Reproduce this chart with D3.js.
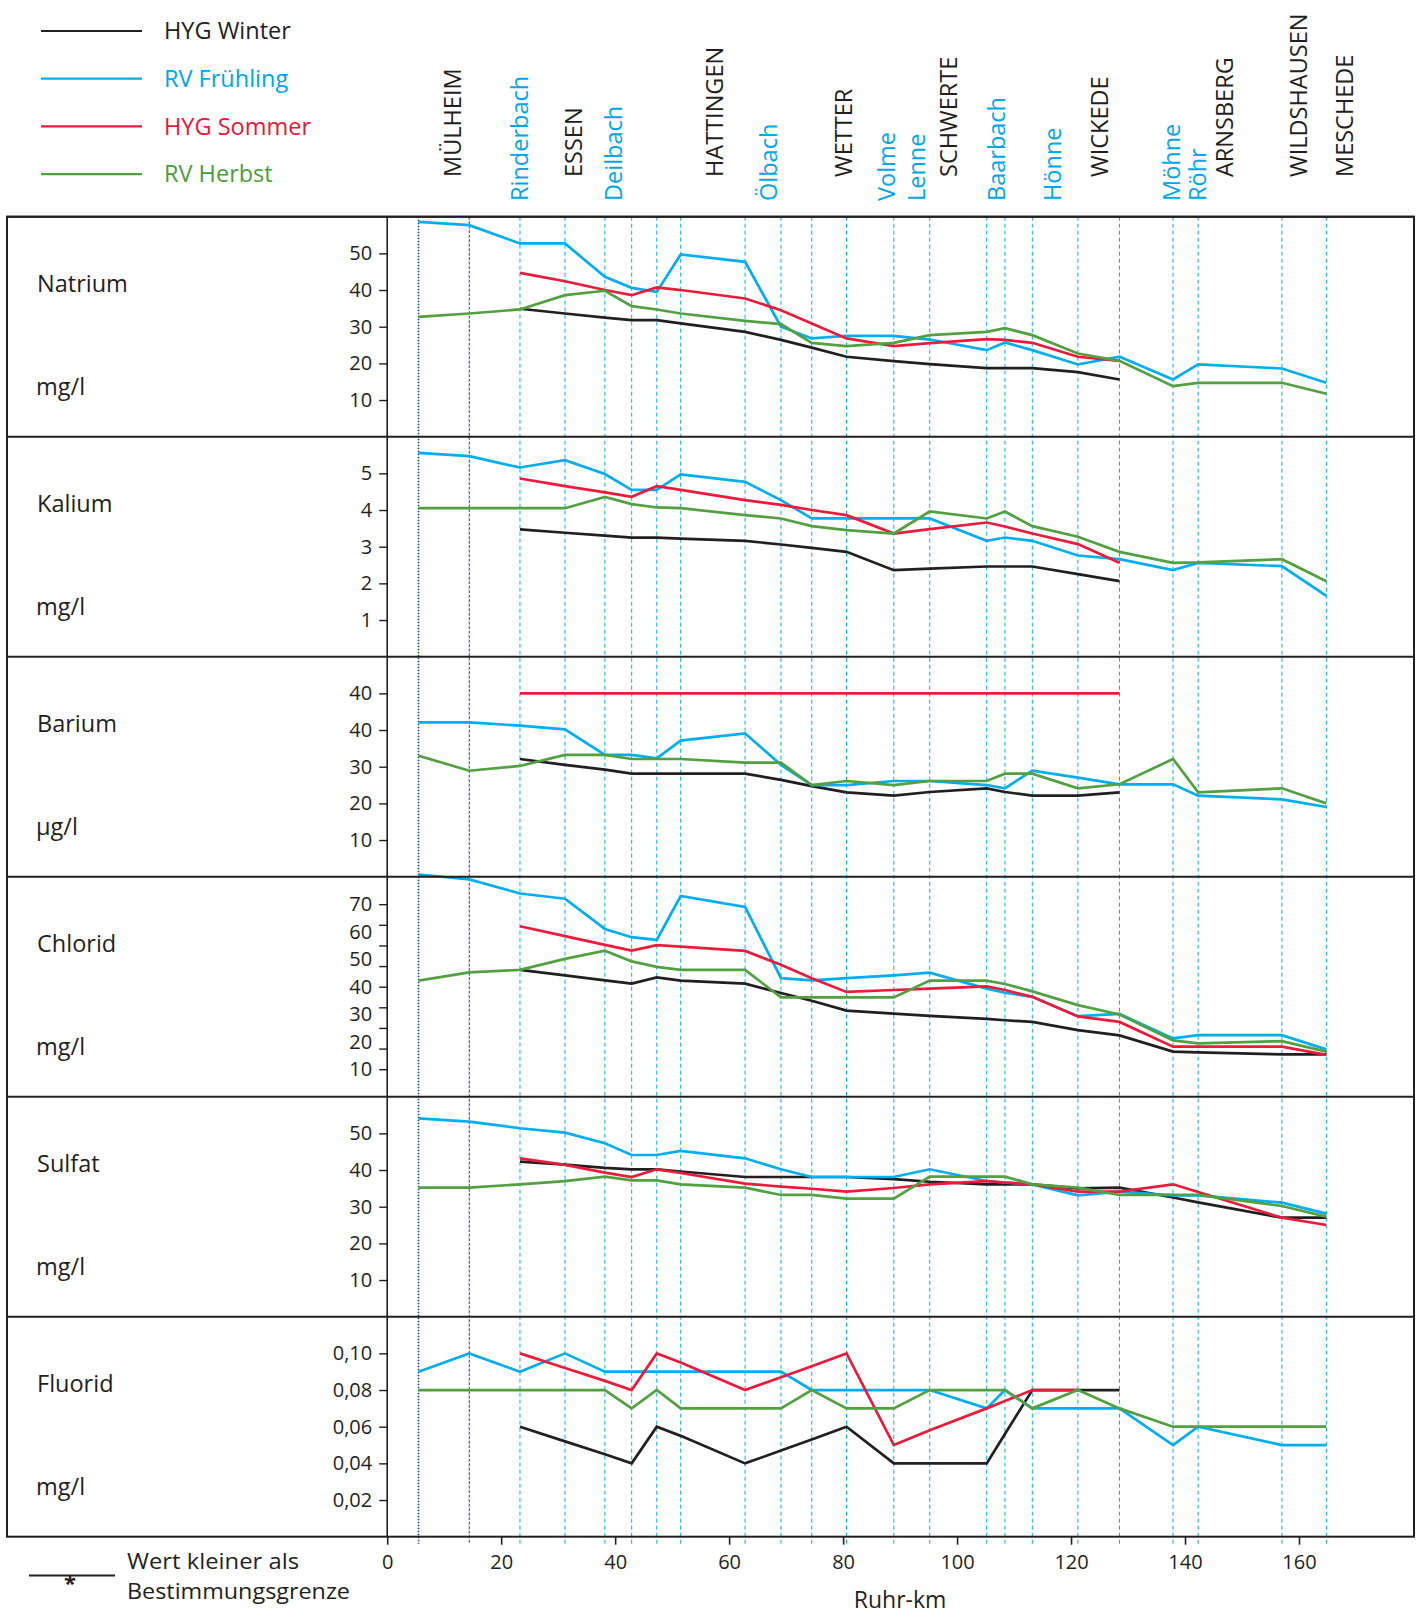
<!DOCTYPE html>
<html>
<head>
<meta charset="utf-8">
<script src="https://cdn.jsdelivr.net/npm/d3@7"></script>
<style>
  html, body { margin: 0; padding: 0; background: #fff; }
  svg { display: block; }
  text { font-family: "Open Sans", "Noto Sans", sans-serif; }
</style>
</head>
<body>
<svg id="chart" width="1421" height="1615"></svg>
<script>
const n = null;

// ---------- data ----------
const seriesNames = ["HYG Winter", "RV Frühling", "HYG Sommer", "RV Herbst"];
const panelNames = ["Natrium", "Kalium", "Barium", "Chlorid", "Sulfat", "Fluorid"];
const panelUnits = ["mg/l", "mg/l", "µg/l", "mg/l", "mg/l", "mg/l"];
const panelMax = [60, 6, 60, 80, 60, 0.12];

const tickValuesList = [
  [10, 20, 30, 40, 50],
  [1, 2, 3, 4, 5],
  [10, 20, 30, 40, 50],
  [10, 20, 30, 40, 50, 60, 70],
  [10, 20, 30, 40, 50],
  [0.02, 0.04, 0.06, 0.08, 0.10]
];
const tickLabelsList = [
  ["10", "20", "30", "40", "50"],
  ["1", "2", "3", "4", "5"],
  ["10", "20", "30", "40", "40"],
  ["10", "20", "30", "40", "50", "60", "70"],
  ["10", "20", "30", "40", "50"],
  ["0,02", "0,04", "0,06", "0,08", "0,10"]
];
const chloridTickMarks = [10, 17.5, 25, 32.5, 40, 47.5, 55, 62.5, 70];

const xTickValues = [0, 20, 40, 60, 80, 100, 120, 140, 160];
const xTickLabels = ["0", "20", "40", "60", "80", "100", "120", "140", "160"];

// measuring stations (Ruhr-km)
const stations = [5.5, 14.4, 23.3, 31.2, 38.2, 42.9, 47.3, 51.5, 62.8, 69.1, 74.5, 80.6, 88.9, 95.2,
                  105.2, 108.4, 113.2, 121.2, 128.5, 137.9, 142.3, 157.0, 164.8];

// place labels on top (Ruhr-km of label, kind: town / tributary)
const placeNames = ["MÜLHEIM", "Rinderbach", "ESSEN", "Deilbach", "HATTINGEN", "Ölbach", "WETTER", "Volme", "Lenne",
                    "SCHWERTE", "Baarbach", "Hönne", "WICKEDE", "Möhne", "Röhr", "ARNSBERG", "WILDSHAUSEN", "MESCHEDE"];
const placeKm = [11.5, 23.3, 32.7, 39.7, 57.5, 66.9, 80.1, 87.6, 92.8, 98.5, 107.0, 116.7, 125.0, 137.7, 142.2, 146.9, 160.0, 168.0];
const placeIsTributary = [false, true, false, true, false, true, false, true, true, false, true, true, false, true, true, false, false, false];

const natriumWinter    = [n, n, 34.9, 33.6, 32.5, 31.8, 31.8, 30.9, 28.6, 26.4, 24.3, 21.8, 20.6, 19.8, 18.7, 18.7, 18.7, 17.6, 15.6, n, n, n, n];
const natriumFruehling = [58.6, 57.7, 52.7, 52.7, 43.6, 40.6, 39.5, 49.7, 47.7, 30.0, 26.8, 27.5, 27.5, 26.5, 23.6, 25.7, 23.6, 19.7, 21.8, 15.6, 19.7, 18.6, 14.7];
const natriumSommer    = [n, n, 44.7, 42.4, 40.0, 38.6, 40.7, 40.0, 37.7, 34.5, 30.9, 26.8, 24.7, 25.5, 26.6, 26.4, 25.6, 21.8, 20.7, n, n, n, n];
const natriumHerbst    = [32.7, 33.6, 34.7, 38.6, 39.8, 35.6, 34.7, 33.6, 31.6, 30.7, 25.6, 24.7, 25.6, 27.7, 28.6, 29.6, 27.7, 22.7, 20.7, 13.8, 14.7, 14.7, 11.7];

const kaliumWinter    = [n, n, 3.47, 3.38, 3.30, 3.25, 3.25, 3.22, 3.16, 3.06, 2.97, 2.86, 2.36, 2.40, 2.46, 2.46, 2.46, 2.25, 2.06, n, n, n, n];
const kaliumFruehling = [5.56, 5.47, 5.16, 5.36, 4.98, 4.55, 4.55, 4.97, 4.77, 4.27, 3.77, 3.77, 3.77, 3.77, 3.16, 3.25, 3.16, 2.76, 2.66, 2.36, 2.56, 2.47, 1.66];
const kaliumSommer    = [n, n, 4.86, 4.65, 4.48, 4.36, 4.65, 4.55, 4.27, 4.14, 4.00, 3.86, 3.36, 3.48, 3.66, 3.55, 3.36, 3.07, 2.56, n, n, n, n];
const kaliumHerbst    = [4.05, 4.05, 4.05, 4.05, 4.36, 4.16, 4.07, 4.05, 3.86, 3.77, 3.56, 3.45, 3.36, 3.96, 3.77, 3.96, 3.56, 3.27, 2.86, 2.56, 2.57, 2.66, 2.06];

const bariumWinter    = [n, n, 32.1, 30.5, 29.2, 28.1, 28.1, 28.1, 28.1, 26.4, 24.7, 23.0, 22.1, 23.1, 24.1, 23.1, 22.1, 22.1, 23.0, n, n, n, n];
const bariumFruehling = [42.1, 42.1, 41.2, 40.2, 33.2, 33.2, 32.3, 37.1, 39.1, 30.5, 25.0, 25.0, 26.1, 26.1, 25.0, 24.1, 28.9, 27.0, 25.2, 25.2, 22.1, 21.1, 19.0];
const bariumSommer    = [n, n, 50, 50, 50, 50, 50, 50, 50, 50, 50, 50, 50, 50, 50, 50, 50, 50, 50, n, n, n, n];
const bariumHerbst    = [33.0, 28.9, 30.2, 33.2, 33.2, 32.1, 32.1, 32.1, 31.1, 31.1, 25.0, 26.1, 25.0, 26.1, 26.1, 28.1, 28.1, 24.1, 25.2, 32.1, 23.0, 24.1, 20.0];

const chloridWinter    = [n, n, 46.1, 44.1, 42.3, 41.1, 43.4, 42.2, 41.1, 37.7, 34.9, 31.3, 30.2, 29.4, 28.3, 27.8, 27.2, 24.2, 22.3, 16.4, 16.1, 15.4, 15.4];
const chloridFruehling = [80.8, 79.0, 73.9, 72.0, 61.0, 58.0, 57.0, 73.0, 69.0, 43.1, 42.3, 43.1, 44.1, 45.1, 39.3, 37.8, 36.3, 29.3, 30.1, 21.2, 22.4, 22.4, 17.2];
const chloridSommer    = [n, n, 62.0, 58.4, 55.2, 53.1, 55.1, 54.6, 53.0, 48.0, 43.1, 38.1, 38.8, 39.3, 40.1, 38.8, 36.3, 29.2, 27.2, 18.2, 18.2, 18.2, 15.2];
const chloridHerbst    = [42.2, 45.2, 46.1, 50.1, 53.1, 49.2, 47.2, 46.1, 46.1, 36.1, 36.1, 36.1, 36.1, 42.2, 42.2, 41.0, 38.3, 33.3, 29.9, 20.5, 19.4, 20.2, 16.4];

const sulfatWinter    = [n, n, 42.3, 41.5, 40.6, 40.2, 40.2, 39.6, 38.1, 38.1, 38.1, 38.1, 37.5, 36.8, 36.1, 36.1, 36.1, 35.0, 35.2, 32.5, 31.2, 27.0, 27.0];
const sulfatFruehling = [54.1, 53.2, 51.4, 50.2, 47.3, 44.1, 44.1, 45.2, 43.2, 40.2, 38.1, 38.1, 38.1, 40.2, 37.0, 36.6, 36.1, 33.1, 34.1, 33.1, 33.1, 31.1, 28.1];
const sulfatSommer    = [n, n, 43.2, 41.4, 39.3, 38.1, 40.2, 39.2, 36.3, 35.5, 34.9, 34.1, 35.1, 36.1, 37.0, 36.6, 36.1, 34.1, 34.1, 36.1, 34.0, 27.0, 25.0];
const sulfatHerbst    = [35.2, 35.2, 36.1, 37.0, 38.2, 37.2, 37.2, 36.1, 35.2, 33.2, 33.2, 32.2, 32.2, 38.2, 38.2, 38.2, 36.1, 35.2, 33.2, 33.2, 33.2, 30.2, 27.3];

const fluoridWinter    = [n, n, 0.060, 0.052, 0.045, 0.040, 0.060, 0.055, 0.040, 0.047, 0.053, 0.060, 0.040, 0.040, 0.040, 0.056, 0.080, 0.080, 0.080, n, n, n, n];
const fluoridFruehling = [0.09, 0.10, 0.09, 0.10, 0.09, 0.09, 0.09, 0.09, 0.09, 0.09, 0.08, 0.08, 0.08, 0.08, 0.07, 0.08, 0.07, 0.07, 0.07, 0.05, 0.06, 0.05, 0.05];
const fluoridSommer    = [n, n, 0.100, 0.092, 0.085, 0.080, 0.100, 0.095, 0.080, 0.087, 0.093, 0.100, 0.050, 0.058, 0.070, 0.074, 0.080, 0.080, n, n, n, n, n];
const fluoridHerbst    = [0.08, 0.08, 0.08, 0.08, 0.08, 0.07, 0.08, 0.07, 0.07, 0.07, 0.08, 0.07, 0.07, 0.08, 0.08, 0.08, 0.07, 0.08, 0.07, 0.06, 0.06, 0.06, 0.06];

const panelSeries = [
  [natriumWinter, natriumFruehling, natriumSommer, natriumHerbst],
  [kaliumWinter, kaliumFruehling, kaliumSommer, kaliumHerbst],
  [bariumWinter, bariumFruehling, bariumSommer, bariumHerbst],
  [chloridWinter, chloridFruehling, chloridSommer, chloridHerbst],
  [sulfatWinter, sulfatFruehling, sulfatSommer, sulfatHerbst],
  [fluoridWinter, fluoridFruehling, fluoridSommer, fluoridHerbst]
];

const noteLines = ["Wert kleiner als", "Bestimmungsgrenze"];

// ---------- styles / layout ----------
const INK = "#231f20";
const BLUE = "#00aeef";
const seriesColors = [INK, BLUE, "#ec1b3b", "#52a040"];
const textColors = [INK, "#00a6e8", "#e8173c", "#4d9c3a"];
const BIG = 23.5, TICK = 20;

const frameLeft = 7, frameRight = 1414;
const panelTop0 = 216.7, panelH = 220;
const axisX = 387.2;
const bottomY = panelTop0 + panelH * panelNames.length;

const svg = d3.select("#chart");
const x = d3.scaleLinear().domain([0, 160]).range([axisX, 1299]);

// ---------- legend ----------
const legend = svg.append("g");
seriesNames.forEach((name, i) => {
  const y = 31 + i * 47.7;
  legend.append("line").attr("x1", 41).attr("x2", 142).attr("y1", y).attr("y2", y)
    .attr("stroke", seriesColors[i]).attr("stroke-width", 2.2);
  legend.append("text").attr("x", 164).attr("y", y).attr("dy", "0.35em")
    .attr("font-size", BIG).attr("fill", textColors[i]).text(name);
});

// ---------- place labels ----------
placeNames.forEach((name, i) => {
  const px = x(placeKm[i]);
  const py = placeIsTributary[i] ? 201 : 177;
  svg.append("text")
    .attr("transform", `translate(${px},${py}) rotate(-90)`)
    .attr("dy", "0.36em")
    .attr("font-size", BIG)
    .attr("fill", placeIsTributary[i] ? "#00a6e8" : INK)
    .text(name);
});

// ---------- station dashed lines ----------
const stationG = svg.append("g");
stations.forEach((km, i) => {
  const sx = x(km);
  const ln = stationG.append("line")
    .attr("x1", sx).attr("x2", sx).attr("y1", panelTop0).attr("y2", bottomY + 7);
  if (i === 0) {
    ln.attr("stroke", "#1b3f9e").attr("stroke-width", 1.6).attr("stroke-dasharray", "1.5,1.5");
  } else if (i === 1) {
    ln.attr("stroke", "#1b3f9e").attr("stroke-width", 1).attr("stroke-dasharray", "3,1.5");
  } else {
    ln.attr("stroke", BLUE).attr("stroke-width", 1).attr("stroke-dasharray", "4,3");
  }
});

// ---------- panels ----------
panelNames.forEach((pname, p) => {
  const top = panelTop0 + p * panelH;
  const bottom = top + panelH;
  const y = d3.scaleLinear().domain([0, panelMax[p]]).range([bottom, top]);
  const g = svg.append("g");

  // title and unit
  g.append("text").attr("x", 37).attr("y", top + 67).attr("dy", "0.35em")
    .attr("font-size", BIG).attr("fill", INK).text(pname);
  g.append("text").attr("x", 36).attr("y", top + 170).attr("dy", "0.35em")
    .attr("font-size", BIG).attr("fill", INK).text(panelUnits[p]);

  // y axis
  const labels = tickLabelsList[p];
  const vals = tickValuesList[p];
  if (pname === "Chlorid") {
    const marks = d3.axisLeft(y).tickValues(chloridTickMarks).tickSize(8).tickFormat(() => "");
    const ga = g.append("g").attr("transform", `translate(${axisX},0)`).call(marks);
    ga.select(".domain").remove();
    ga.selectAll("line").attr("stroke", INK).attr("stroke-width", 1.4);
    const lab = d3.axisLeft(y).tickValues(vals).tickSize(0).tickPadding(15)
      .tickFormat((d, i) => labels[i]);
    const gl = g.append("g").attr("transform", `translate(${axisX},0)`).call(lab);
    gl.select(".domain").remove();
    gl.selectAll("text").attr("font-size", TICK).attr("fill", INK)
      .attr("font-family", "'Open Sans', sans-serif");
  } else {
    const ax = d3.axisLeft(y).tickValues(vals).tickSize(8).tickPadding(7)
      .tickFormat((d, i) => labels[i]);
    const ga = g.append("g").attr("transform", `translate(${axisX},0)`).call(ax);
    ga.select(".domain").remove();
    ga.selectAll("line").attr("stroke", INK).attr("stroke-width", 1.4);
    ga.selectAll("text").attr("font-size", TICK).attr("fill", INK)
      .attr("font-family", "'Open Sans', sans-serif");
  }

  // series lines
  const line = d3.line()
    .defined(d => d.v !== null)
    .x(d => x(d.km))
    .y(d => y(d.v));
  panelSeries[p].forEach((vals2, s) => {
    const data = stations.map((km, i) => ({ km: km, v: vals2[i] }));
    g.append("path").datum(data)
      .attr("fill", "none")
      .attr("stroke", seriesColors[s])
      .attr("stroke-width", 2.7)
      .attr("stroke-linejoin", "miter")
      .attr("d", line);
  });

  // panel separator
  g.append("line").attr("x1", frameLeft).attr("x2", frameRight).attr("y1", top).attr("y2", top)
    .attr("stroke", INK).attr("stroke-width", 2);
});

// outer frame
svg.append("rect").attr("x", frameLeft).attr("y", panelTop0)
  .attr("width", frameRight - frameLeft).attr("height", bottomY - panelTop0)
  .attr("fill", "none").attr("stroke", INK).attr("stroke-width", 2);

// y axis line
svg.append("line").attr("x1", axisX).attr("x2", axisX).attr("y1", panelTop0).attr("y2", bottomY)
  .attr("stroke", INK).attr("stroke-width", 1.6);

// ---------- x axis ----------
const xAxis = d3.axisBottom(x).tickValues(xTickValues).tickSize(8).tickPadding(10)
  .tickFormat((d, i) => xTickLabels[i]);
const gx = svg.append("g").attr("transform", `translate(0,${bottomY})`).call(xAxis);
gx.select(".domain").remove();
gx.selectAll("line").attr("stroke", INK).attr("stroke-width", 1.6);
gx.selectAll("text").attr("font-size", TICK).attr("fill", INK)
  .attr("font-family", "'Open Sans', sans-serif");

svg.append("text").attr("x", x(90)).attr("y", 1600).attr("dy", "0.35em")
  .attr("text-anchor", "middle").attr("font-size", 23).attr("fill", INK).text("Ruhr-km");

// ---------- note legend ----------
svg.append("line").attr("x1", 29).attr("x2", 115).attr("y1", 1575.5).attr("y2", 1575.5)
  .attr("stroke", INK).attr("stroke-width", 2);
svg.append("text").attr("x", 70).attr("y", 1575.5).attr("dy", "0.72em")
  .attr("text-anchor", "middle").attr("font-size", 22).attr("font-weight", "bold")
  .attr("fill", INK).text("*");
const noteWidths = [172, 223];
noteLines.forEach((t, i) => {
  svg.append("text").attr("x", 127).attr("y", 1561.5 + i * 30).attr("dy", "0.35em")
    .attr("font-size", 21.5).attr("fill", INK)
    .attr("textLength", noteWidths[i]).attr("lengthAdjust", "spacingAndGlyphs")
    .text(t);
});
</script>
</body>
</html>
